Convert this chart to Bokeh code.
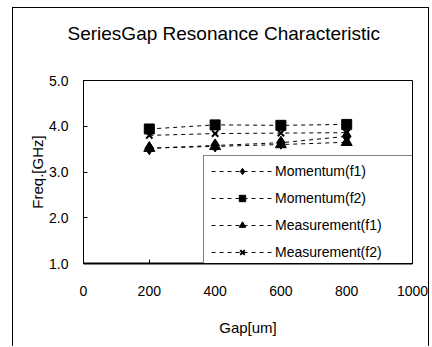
from bokeh.plotting import figure
from bokeh.embed import file_html
from bokeh.resources import INLINE
from bokeh.models import Legend, LegendItem, FixedTicker, CustomJSTickFormatter, Range1d, Title

gap = [200, 400, 600, 800]
momentum_f1 = [3.52, 3.58, 3.64, 3.78]
momentum_f2 = [3.94, 4.03, 4.02, 4.04]
measurement_f1 = [3.52, 3.56, 3.60, 3.65]
measurement_f2 = [3.80, 3.84, 3.85, 3.86]
x_ticks = [0, 200, 400, 600, 800, 1000]
y_ticks = [1.0, 2.0, 3.0, 4.0, 5.0]
title_text = "SeriesGap Resonance Characteristic"

FONT = "Liberation Sans"

p = figure(width=431, height=346, output_backend="svg", toolbar_location=None,
           x_range=Range1d(0, 1000), y_range=Range1d(1.0, 5.0),
           min_border_left=83, min_border_right=19, min_border_top=80, min_border_bottom=83)
p.styles = {
    "background": ("linear-gradient(black, black) 12px 7px / 1px 400px no-repeat, "
                   "linear-gradient(black, black) 12px 7px / 417px 1px no-repeat, "
                   "linear-gradient(black, black) 428px 7px / 1px 400px no-repeat, white"),
}
p.background_fill_color = "white"
p.border_fill_alpha = 0
p.outline_line_color = "black"
p.outline_line_width = 1
p.grid.visible = False

spacer = Title(text=" ", text_font=FONT, text_font_size="10px", standoff=7)
main_title = Title(text=title_text, text_font=FONT, text_font_size="19px",
                   text_font_style="normal", text_color="black", align="left",
                   offset=-16, vertical_align="top", standoff=30)
p.add_layout(spacer, "above")
p.add_layout(main_title, "above")

for ax in (p.xaxis[0], p.yaxis[0]):
    ax.axis_line_color = "black"
    ax.major_tick_in = 4
    ax.major_tick_out = 0
    ax.major_tick_line_color = "black"
    ax.minor_tick_line_color = None
    ax.major_label_text_font = FONT
    ax.major_label_text_font_size = "14px"
    ax.major_label_text_color = "black"
    ax.axis_label_text_font = FONT
    ax.axis_label_text_font_size = "15px"
    ax.axis_label_text_font_style = "normal"
    ax.axis_label_text_color = "black"

p.xaxis[0].ticker = FixedTicker(ticks=x_ticks)
p.yaxis[0].ticker = FixedTicker(ticks=y_ticks)
p.yaxis[0].formatter = CustomJSTickFormatter(code="return tick.toFixed(1);")
p.xaxis[0].axis_label = "Gap[um]"
p.yaxis[0].axis_label = "Freq.[GHz]"
p.xaxis[0].major_label_standoff = 22
p.xaxis[0].axis_label_standoff = 20
p.yaxis[0].major_label_standoff = 15
p.yaxis[0].axis_label_standoff = 0
p.xaxis[0].axis_line_width = 2

dash = "4 4"
series = [
    ("Momentum(f1)", momentum_f1, "diamond", 13),
    ("Momentum(f2)", momentum_f2, "square", 10),
    ("Measurement(f1)", measurement_f1, "triangle", 11),
    ("Measurement(f2)", measurement_f2, "x", 9),
]
items = []
for name, ys, marker, size in series:
    l = p.line(gap, ys, line_color="black", line_dash=dash, line_width=1)
    s = p.scatter(gap, ys, marker=marker, size=size, fill_color="black",
                  line_color="black", line_width=2 if marker == "x" else 1)
    items.append(LegendItem(label=name, renderers=[l, s]))

legend = Legend(items=items, location=(120, -5), padding=7, spacing=11,
                glyph_width=62, glyph_height=16, label_height=16, label_width=140,
                label_standoff=2, label_text_font=FONT, label_text_font_size="14px",
                label_text_color="black",
                border_line_color="black", border_line_width=1,
                background_fill_color="white", background_fill_alpha=1.0)
p.add_layout(legend, "center")

open("out.html", "w").write(file_html(p, INLINE))
